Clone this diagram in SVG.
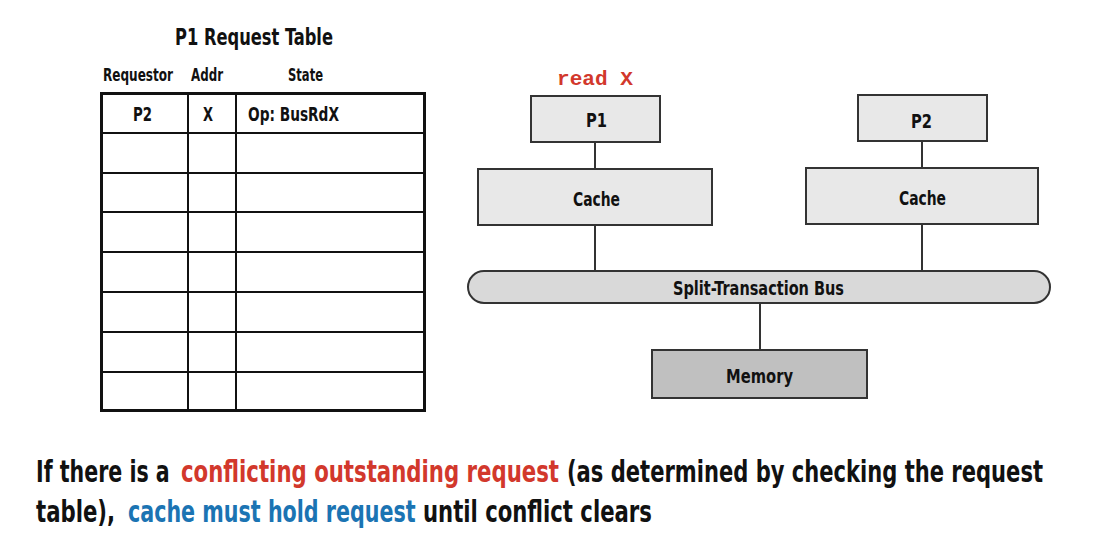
<svg xmlns="http://www.w3.org/2000/svg" width="1104" height="546" viewBox="0 0 1104 546">
<style>
.t{font-family:"DejaVu Sans Condensed","Liberation Sans",sans-serif;font-weight:bold;fill:#111}
.box{fill:#e8e8e8;stroke:#333;stroke-width:2}
.ln{stroke:#333;stroke-width:2;fill:none}
.tb{stroke:#111;stroke-width:3;fill:none}
.tl{stroke:#111;stroke-width:2;fill:none}
.red{fill:#d2382c}
.blue{fill:#1b74b3}
.cap{font-size:30px}
</style>
<rect width="1104" height="546" fill="#fff"/>
<g id="table">
<text class="t" x="175" y="45" font-size="23" textLength="158" lengthAdjust="spacingAndGlyphs">P1 Request Table</text>
<text class="t" x="103" y="81" font-size="17" textLength="70" lengthAdjust="spacingAndGlyphs">Requestor</text>
<text class="t" x="191" y="81" font-size="17" textLength="32" lengthAdjust="spacingAndGlyphs">Addr</text>
<text class="t" x="288" y="81" font-size="17" textLength="35" lengthAdjust="spacingAndGlyphs">State</text>
<rect class="tb" x="101.5" y="93.5" width="323" height="317"/>
<path class="tl" d="M188 93V411M236 93V411M101 133H425M101 173H425M101 212H425M101 252H425M101 292H425M101 332H425M101 372H425"/>
<text class="t" x="133" y="121" font-size="19" textLength="19" lengthAdjust="spacingAndGlyphs">P2</text>
<text class="t" x="203" y="121" font-size="19" textLength="10" lengthAdjust="spacingAndGlyphs">X</text>
<text class="t" x="248" y="121" font-size="19" textLength="91" lengthAdjust="spacingAndGlyphs">Op: BusRdX</text>
</g>
<g id="connectors">
<path class="ln" d="M595 142V169M595 225V271M922 141V168M922 224V271M760 303V350"/>
</g>
<g id="p1">
<text x="557" y="85" font-family="'Liberation Mono','DejaVu Sans Mono',monospace" font-weight="bold" font-size="21" fill="#d2382c" textLength="76" lengthAdjust="spacingAndGlyphs">read X</text>
<rect class="box" x="531" y="96" width="129" height="46"/>
<text class="t" x="586" y="127" font-size="19" textLength="21" lengthAdjust="spacingAndGlyphs">P1</text>
</g>
<g id="cache1">
<rect class="box" x="478" y="169" width="234" height="56"/>
<text class="t" x="573" y="206" font-size="20" textLength="47" lengthAdjust="spacingAndGlyphs">Cache</text>
</g>
<g id="p2">
<rect class="box" x="858" y="95" width="129" height="46"/>
<text class="t" x="911" y="128" font-size="19" textLength="21" lengthAdjust="spacingAndGlyphs">P2</text>
</g>
<g id="cache2">
<rect class="box" x="806" y="168" width="232" height="56"/>
<text class="t" x="899" y="205" font-size="20" textLength="47" lengthAdjust="spacingAndGlyphs">Cache</text>
</g>
<g id="bus">
<rect x="468" y="271" width="582" height="32" rx="16" fill="#d9d9d9" stroke="#333" stroke-width="2"/>
<text class="t" x="673" y="295" font-size="19" textLength="171" lengthAdjust="spacingAndGlyphs">Split-Transaction Bus</text>
</g>
<g id="memory">
<rect x="652" y="350" width="215" height="48" fill="#c0c0c0" stroke="#333" stroke-width="2"/>
<text class="t" x="726" y="383" font-size="20" textLength="67" lengthAdjust="spacingAndGlyphs">Memory</text>
</g>
<g id="caption">
<text class="t cap" transform="translate(36 482) scale(0.7 1)" textLength="191" lengthAdjust="spacingAndGlyphs">If there is a</text>
<text class="t cap red" transform="translate(181 482) scale(0.7 1)" textLength="540" lengthAdjust="spacingAndGlyphs">conflicting outstanding request</text>
<text class="t cap" transform="translate(567 482) scale(0.7 1)" textLength="680" lengthAdjust="spacingAndGlyphs">(as determined by checking the request</text>
<text class="t cap" transform="translate(36 522) scale(0.7 1)" textLength="113" lengthAdjust="spacingAndGlyphs">table),</text>
<text class="t cap blue" transform="translate(128 522) scale(0.7 1)" textLength="411" lengthAdjust="spacingAndGlyphs">cache must hold request</text>
<text class="t cap" transform="translate(423 522) scale(0.7 1)" textLength="327" lengthAdjust="spacingAndGlyphs">until conflict clears</text>
</g>
</svg>
